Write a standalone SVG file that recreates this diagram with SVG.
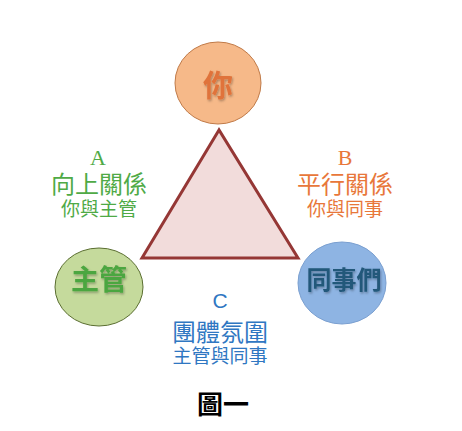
<svg xmlns="http://www.w3.org/2000/svg" width="462" height="431" viewBox="0 0 462 431">
<defs>
<filter id="sh" x="-20%" y="-20%" width="140%" height="140%">
<feDropShadow dx="1" dy="1.5" stdDeviation="0.8" flood-color="#000" flood-opacity="0.3"/>
</filter>
<style>
.cjk{font-family:"Noto Sans CJK TC","Noto Sans CJK SC",sans-serif;text-anchor:middle}
.nt{font-weight:bold;filter:url(#sh)}
.lt{font-family:"Liberation Serif",serif;text-anchor:middle}
.g{fill:#4FAA46}
.o{fill:#E8773A}
.b{fill:#2F77C2}
</style>
</defs>
<rect width="462" height="431" fill="#fff"/>
<g id="connectors">
<polygon points="219,130 142,258 298,258" fill="#F2DCDB" stroke="#953735" stroke-width="3" stroke-linejoin="miter"/>
</g>
<g id="node-you">
<ellipse cx="218" cy="83" rx="43" ry="41" fill="#F6B989" stroke="#C07A48" stroke-width="1"/>
<text class="cjk nt" x="218" y="96" font-size="30" fill="#E0733B">你</text>
</g>
<g id="node-boss">
<ellipse cx="99" cy="287" rx="44" ry="39" fill="#C5DA9C" stroke="#5A6E30" stroke-width="1"/>
<text class="cjk nt" x="99" y="290" font-size="28" fill="#4CA640">主管</text>
</g>
<g id="node-peers">
<ellipse cx="342" cy="283" rx="44" ry="41" fill="#8EB4E3" stroke="#7A9FD0" stroke-width="1"/>
<text class="cjk nt" x="344" y="289" font-size="25" fill="#24587A">同事們</text>
</g>
<g id="label-a">
<text class="lt g" x="98" y="165" font-size="22">A</text>
<text class="cjk g" x="99" y="193" font-size="24">向上關係</text>
<text class="cjk g" x="99" y="216" font-size="19">你與主管</text>
</g>
<g id="label-b">
<text class="lt o" x="345" y="165" font-size="22">B</text>
<text class="cjk o" x="345" y="193" font-size="24">平行關係</text>
<text class="cjk o" x="345" y="216" font-size="19">你與同事</text>
</g>
<g id="label-c">
<text class="b" x="220" y="308" font-size="21" font-family="Liberation Sans, sans-serif" text-anchor="middle">C</text>
<text class="cjk b" x="220" y="341" font-size="24">團體氛圍</text>
<text class="cjk b" x="220" y="363" font-size="19">主管與同事</text>
</g>
<g id="caption">
<text class="cjk" x="223" y="414" font-size="26" font-weight="bold" fill="#000">圖一</text>
</g>
</svg>
